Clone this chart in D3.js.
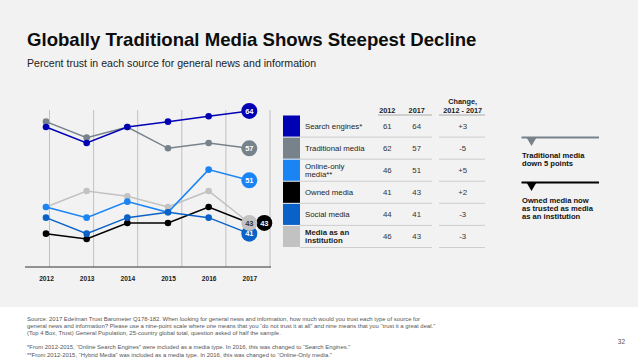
<!DOCTYPE html>
<html>
<head>
<meta charset="utf-8">
<script src="https://cdn.jsdelivr.net/npm/d3@7"></script>
<style>
  html, body { margin: 0; padding: 0; background: #fff; }
  svg { display: block; font-family: "Liberation Sans", Arial, sans-serif; }
</style>
</head>
<body>
<svg id="chart" width="638" height="359"></svg>
<script>
// ---------------- DATA ----------------
const years = [2012, 2013, 2014, 2015, 2016, 2017];
const seriesNames = ["Search engines*", "Traditional media", "Online-only media**", "Owned media", "Social media", "Media as an institution"];
const searchEngines    = [61, 58, 61, 62, 63, 64];
const traditionalMedia = [62, 59, 61, 57, 58, 57];
const onlineOnlyMedia  = [46, 44, 47, 45, 53, 51];
const ownedMedia       = [41, 40, 43, 43, 46, 43];
const socialMedia      = [44, 41, 44, 45, 44, 41];
const mediaInstitution = [46, 49, 48, 46, 49, 43];
const tableLabels = [["Search engines*"], ["Traditional media"], ["Online-only", "media**"], ["Owned media"], ["Social media"], ["Media as an", "institution"]];
const tableHeaders = ["2012", "2017"];
const changeHeader = ["Change,", "2012 - 2017"];
const changeLabels = ["+3", "-5", "+5", "+2", "-3", "-3"];
const annotations = [["Traditional media", "down  5 points"], ["Owned media now", "as trusted as media", "as an institution"]];
const footerLines = [
  "Source: 2017 Edelman Trust Barometer Q178-182. When looking for general news and information, how much would you trust each type of source for",
  "general news and information? Please use a nine-point scale where one means that you \u201cdo not trust it at all\u201d and nine means that you \u201ctrust it a great deal.\u201d",
  "(Top 4 Box, Trust) General Population, 25-country global total, question asked of half the sample.",
  "",
  "*From 2012-2015, \u201cOnline Search Engines\u201d were included as a media type. In 2016, this was changed to \u201cSearch Engines.\u201d",
  "**From 2012-2015, \u201cHybrid Media\u201d was included as a media type. In 2016, this was changed to \u201cOnline-Only media.\u201d"
];

// ---------------- STYLE ----------------
const seriesValues = [searchEngines, traditionalMedia, onlineOnlyMedia, ownedMedia, socialMedia, mediaInstitution];
const colors = ["#0000b4", "#78828a", "#1a84f5", "#000000", "#0a62c8", "#c2c2c2"];
const labelTextColors = ["#fff", "#fff", "#fff", "#fff", "#fff", "#333"];

const svg = d3.select("#chart");

// backgrounds
svg.append("rect").attr("x", 0).attr("y", 0).attr("width", 638).attr("height", 359).attr("fill", "#ffffff");
svg.append("rect").attr("x", 0).attr("y", 0).attr("width", 638).attr("height", 307).attr("fill", "#f2f2f2");

// title
svg.append("text").attr("x", 27).attr("y", 46).attr("font-size", 18.6).attr("font-weight", "bold")
  .attr("fill", "#0d0d0d").text("Globally Traditional Media Shows Steepest Decline");
svg.append("text").attr("x", 27).attr("y", 66.8).attr("font-size", 10.6).attr("fill", "#222")
  .text("Percent trust in each source for general news and information");

// ---------------- LINE CHART ----------------
const x = d3.scalePoint().domain(years).range([46, 249.3]);
const y = d3.scaleLinear().domain([36, 66]).range([260.3, 100.3]);
const gridX = d3.scaleLinear().domain([0, 5]).range([49.5, 270]);
const axisY = 267;

// vertical gridlines
svg.append("g").selectAll("line").data(d3.range(6)).join("line")
  .attr("x1", d => gridX(d)).attr("x2", d => gridX(d))
  .attr("y1", 110).attr("y2", axisY)
  .attr("stroke", "#b4b4b4").attr("stroke-width", 0.8);

// x axis
const xAxis = d3.axisBottom(x).tickSize(0).tickPadding(9);
const gx = svg.append("g").attr("transform", `translate(0,${axisY})`).call(xAxis);
gx.select(".domain").remove();
gx.selectAll("text").attr("font-size", 6.6).attr("font-weight", "bold").attr("fill", "#222")
  .attr("font-family", "Liberation Sans, Arial, sans-serif");
svg.append("line").attr("x1", 25).attr("x2", 271).attr("y1", axisY).attr("y2", axisY)
  .attr("stroke", "#333").attr("stroke-width", 1);

const line = d3.line().x((d, i) => x(years[i])).y(d => y(d));
const drawOrder = [5, 1, 3, 2, 4, 0];
drawOrder.forEach(si => {
  const vals = seriesValues[si];
  const g = svg.append("g");
  g.append("path").attr("d", line(vals)).attr("fill", "none")
    .attr("stroke", colors[si]).attr("stroke-width", 1.5);
  g.selectAll("circle").data(vals.slice(0, -1)).join("circle")
    .attr("cx", (d, i) => x(years[i])).attr("cy", d => y(d)).attr("r", 3.3)
    .attr("fill", colors[si]);
});

// end labels
const last = years.length - 1;
const endOrder = [0, 1, 2, 4, 3, 5];
endOrder.forEach(si => {
  const v = seriesValues[si][last];
  const cx = x(years[last]) + (si === 3 ? 15 : 0);
  const cy = y(v);
  svg.append("circle").attr("cx", cx).attr("cy", cy).attr("r", 8).attr("fill", colors[si]);
  svg.append("text").attr("x", cx).attr("y", cy + 2.6).attr("text-anchor", "middle")
    .attr("font-size", 7.5).attr("font-weight", "bold").attr("fill", labelTextColors[si]).text(v);
});

// ---------------- TABLE ----------------
const rowTop = d3.scaleLinear().domain([0, 6]).range([115, 247.5]);
const col2012 = 387.3, col2017 = 416.7, colChange = 462.7;
const tableFont = 7.8;

tableHeaders.forEach((h, i) => {
  svg.append("text").attr("x", i === 0 ? col2012 : col2017).attr("y", 113.2).attr("text-anchor", "middle")
    .attr("font-size", 7.3).attr("font-weight", "bold").attr("fill", "#222").text(h);
});
changeHeader.forEach((h, i) => {
  svg.append("text").attr("x", colChange).attr("y", 103.5 + i * 9.7).attr("text-anchor", "middle")
    .attr("font-size", 7.3).attr("font-weight", "bold").attr("fill", "#222").text(h);
});
[[378, 432], [439, 485]].forEach(([a, b]) => {
  svg.append("line").attr("x1", a).attr("x2", b).attr("y1", 115).attr("y2", 115)
    .attr("stroke", "#9a9a9a").attr("stroke-width", 0.8);
});

seriesValues.forEach((vals, i) => {
  const top = rowTop(i), bot = rowTop(i + 1), mid = (top + bot) / 2;
  svg.append("rect").attr("x", 283).attr("y", top + 0.5).attr("width", 17).attr("height", bot - top - 1)
    .attr("fill", colors[i]);
  const lbl = tableLabels[i];
  lbl.forEach((t, k) => {
    svg.append("text").attr("x", 305).attr("y", mid + 2.7 + (k - (lbl.length - 1) / 2) * 8.6)
      .attr("font-size", tableFont).attr("fill", "#222")
      .attr("font-weight", i === 5 ? "bold" : "normal").text(t);
  });
  svg.append("text").attr("x", col2012).attr("y", mid + 2.7).attr("text-anchor", "middle")
    .attr("font-size", tableFont).attr("fill", "#333").text(vals[0]);
  svg.append("text").attr("x", col2017).attr("y", mid + 2.7).attr("text-anchor", "middle")
    .attr("font-size", tableFont).attr("fill", "#333").text(vals[last]);
  svg.append("text").attr("x", colChange).attr("y", mid + 2.7).attr("text-anchor", "middle")
    .attr("font-size", tableFont).attr("fill", "#333").text(changeLabels[i]);
  [[300, 432], [439, 485]].forEach(([a, b]) => {
    svg.append("line").attr("x1", a).attr("x2", b).attr("y1", bot).attr("y2", bot)
      .attr("stroke", "#c4c4c4").attr("stroke-width", 0.8);
  });
});

// ---------------- ANNOTATIONS ----------------
const annColors = [colors[1], "#000"];
const annTop = [137.5, 182.5];
annotations.forEach((lines, i) => {
  const ty = annTop[i];
  svg.append("line").attr("x1", 521.5).attr("x2", 599).attr("y1", ty).attr("y2", ty)
    .attr("stroke", annColors[i]).attr("stroke-width", 1.8);
  svg.append("path").attr("d", `M526.5,${ty} L536.5,${ty} L531.5,${ty + 8.5} Z`).attr("fill", annColors[i]);
  lines.forEach((t, k) => {
    svg.append("text").attr("x", 522).attr("y", ty + 20.3 + k * 8.3)
      .attr("font-size", 7.6).attr("font-weight", "bold").attr("fill", "#111").text(t);
  });
});

// ---------------- FOOTER ----------------
const footer = svg.append("g");
const footTexts = [];
footerLines.forEach((t, i) => {
  if (!t) return;
  footTexts.push(footer.append("text").attr("x", 27).attr("y", 321 + i * 7.1)
    .attr("font-size", 5.5).attr("fill", "#555").text(t));
});
// fit footer so the first line spans the same width as in the slide
const firstLen = footTexts[0].node().getComputedTextLength();
const scaleF = Math.min(1.6, Math.max(0.8, 394 / firstLen));
footTexts.forEach(t => t.attr("font-size", 5.5 * scaleF));
svg.append("text").attr("x", 625).attr("y", 344).attr("text-anchor", "end")
  .attr("font-size", 6.5).attr("fill", "#555").text("32");
</script>
</body>
</html>
